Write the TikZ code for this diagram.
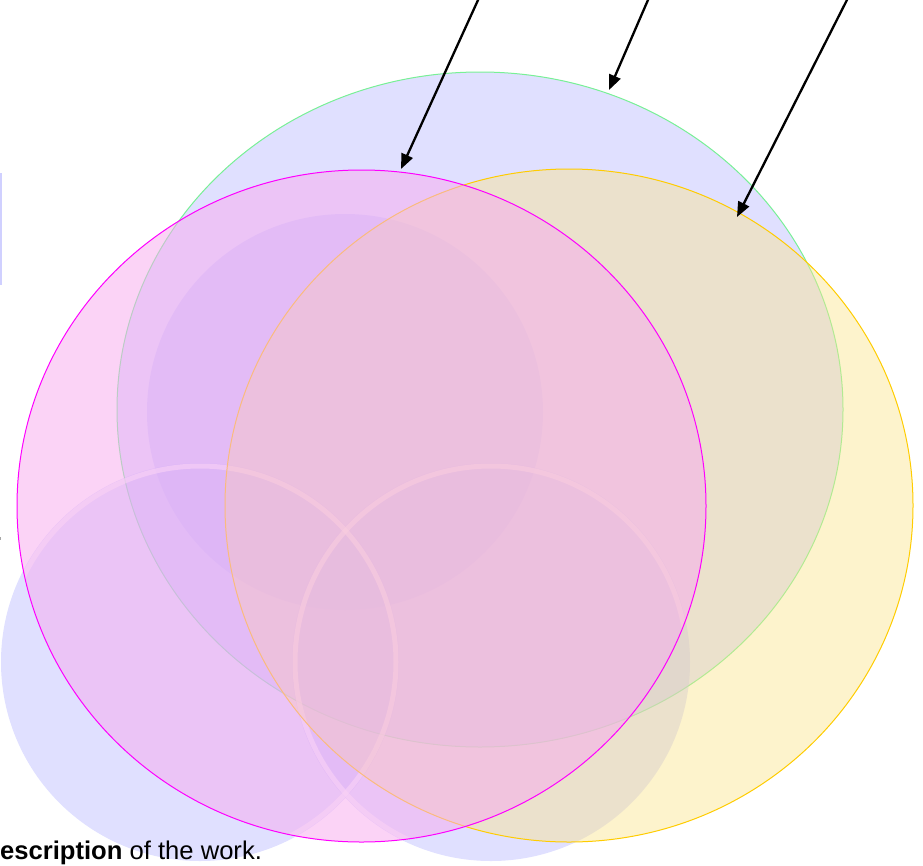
\documentclass[tikz,border=0pt]{standalone}
\usepackage{fontspec}
\setmainfont{Liberation Sans}
\usetikzlibrary{arrows.meta}
\definecolor{lavbig}{RGB}{224,224,255}
\definecolor{lavsoft}{RGB}{180,180,255}
\definecolor{lavbar}{RGB}{208,208,255}
\definecolor{greenline}{RGB}{120,240,150}
\definecolor{yelfill}{RGB}{250,228,142}
\definecolor{yelline}{RGB}{255,204,0}
\definecolor{magfill}{RGB}{247,172,238}
\definecolor{magline}{RGB}{255,0,255}
\tikzset{
  bigset/.style={fill=lavbig, draw=greenline, line width=1pt},
  softset/.style={fill=lavsoft, fill opacity=0.42},
  ringline/.style={draw=white, draw opacity=0.6, line width=5pt},
  yelset/.style={fill=yelfill, fill opacity=0.45, draw=yelline, line width=1pt},
  magset/.style={fill=magfill, fill opacity=0.53, draw=magline, line width=1pt},
  pointer/.style={draw=black, line width=2.3pt, -{Triangle[length=15pt,width=12pt]}},
}
\begin{document}
\begin{tikzpicture}[x=1pt,y=-1pt]
\useasboundingbox (0,0) rectangle (923,865);
\clip (0,0) rectangle (923,865);
% left fragments
\fill[lavbar] (0,173) rectangle (2,285);
\fill[gray!70] (0,536.5) rectangle (1.3,539.5);
% big ellipse
\path[bigset] (480,409.5) ellipse [x radius=363, y radius=337.5];
% inner faint circles
\path[softset] (345,412) circle [radius=198];
\path[softset] (200,662) circle [radius=199];
\path[softset] (491,662) circle [radius=199];
\begin{scope}
  \clip (361.5,506) ellipse [x radius=344.5, y radius=336];
  \path[ringline] (200,662) circle [radius=196];
  \path[ringline] (491,662) circle [radius=196];
\end{scope}
% yellow and magenta ellipses
\path[yelset] (569,505.5) ellipse [x radius=344, y radius=336.5];
\path[magset] (361.5,506) ellipse [x radius=344.5, y radius=336];
% arrows
\coordinate (s1) at (482.6,-10);
\coordinate (t1) at (401,169);
\coordinate (s2) at (652.3,-10);
\coordinate (t2) at (609,90);
\coordinate (s3) at (852,-10);
\coordinate (t3) at (737,217);
\draw[pointer] (s1) -- (t1);
\draw[pointer] (s2) -- (t2);
\draw[pointer] (s3) -- (t3);
% caption
\node[anchor=base west, inner sep=0pt, font=\fontsize{25.6}{30}\selectfont] (cap) at (-18.5,859) {\textbf{Description} of the work.};
\end{tikzpicture}
\end{document}
